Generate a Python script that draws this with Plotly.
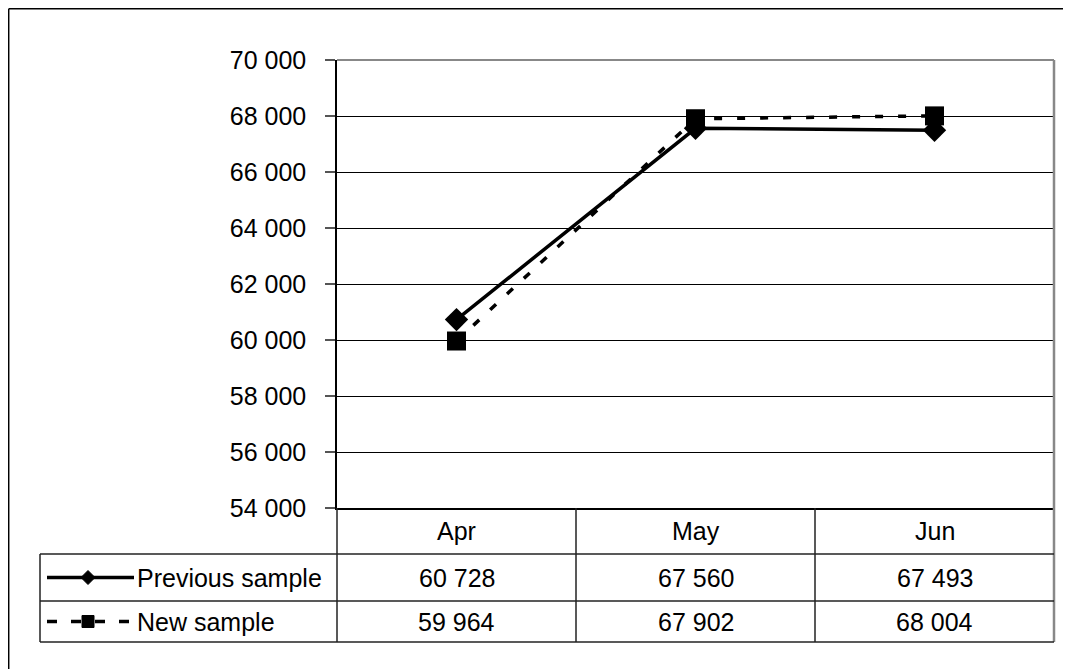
import plotly.graph_objects as go

categories = ["Apr", "May", "Jun"]
previous_sample = [60728, 67560, 67493]
new_sample = [59964, 67902, 68004]
series_names = ["Previous sample", "New sample"]
y_ticks = [54000, 56000, 58000, 60000, 62000, 64000, 66000, 68000, 70000]

OFF = 8  # page body margin
W, H = 1071 - OFF, 669 - OFF
# plot area in page pixels
PL, PR, PT, PB = 337, 1054, 60, 508
L, R, T, B = PL - OFF, PR - OFF, PT - OFF, PB - OFF
FONT = "Liberation Sans, Arial, sans-serif"
FS = 25

def px(x):
    """page x pixel -> paper coordinate"""
    return (x - OFF - L) / (R - L)

def py(y):
    """page y pixel -> paper coordinate"""
    return (B - (y - OFF)) / (B - T)

def fmt(v):
    return f"{v:,}".replace(",", " ")

fig = go.Figure()
fig.add_trace(go.Scatter(
    x=categories, y=previous_sample, mode="lines+markers", name=series_names[0],
    line=dict(color="black", width=3.5),
    marker=dict(symbol="diamond", size=18, color="black"),
    cliponaxis=False,
))
fig.add_trace(go.Scatter(
    x=categories, y=new_sample, mode="lines+markers", name=series_names[1],
    line=dict(color="black", width=3.5, dash="8px,15px"),
    marker=dict(symbol="square", size=19, color="black"),
    cliponaxis=False,
))

shapes = []
LC = "#222"
# outer border: only top and left edges are inside the page
shapes.append(dict(type="line", xref="paper", yref="paper",
                   x0=px(8.7), x1=px(1071), y0=py(8.7), y1=py(8.7),
                   line=dict(color="black", width=1.5), layer="below"))
shapes.append(dict(type="line", xref="paper", yref="paper",
                   x0=px(8.7), x1=px(8.7), y0=py(8.7), y1=py(669),
                   line=dict(color="black", width=1.5), layer="below"))
# plot area top and right border (gray)
shapes.append(dict(type="line", xref="paper", yref="paper", x0=0, x1=1, y0=1, y1=1,
                   line=dict(color="#888", width=2)))
shapes.append(dict(type="line", xref="paper", yref="paper", x0=1, x1=1, y0=1, y1=py(642),
                   line=dict(color="#888", width=2.5)))
# table rows
rows_y = [554, 601, 642]
for yy in rows_y:
    shapes.append(dict(type="line", xref="paper", yref="paper", x0=px(40), x1=1,
                       y0=py(yy), y1=py(yy), line=dict(color=LC, width=1.5)))
# table verticals
shapes.append(dict(type="line", xref="paper", yref="paper", x0=px(40), x1=px(40),
                   y0=py(554), y1=py(642), line=dict(color=LC, width=1.5)))
shapes.append(dict(type="line", xref="paper", yref="paper", x0=0, x1=0,
                   y0=0, y1=py(642), line=dict(color=LC, width=1.5)))
for i in range(len(categories) - 1):
    shapes.append(dict(type="line", xref="x", yref="paper", x0=i + 0.5, x1=i + 0.5,
                       y0=0, y1=py(642), line=dict(color=LC, width=1.5)))

# legend keys in table
row_mid = [(554 + 601) / 2, (601 + 642) / 2]
kx0, kx1, kc = 47, 134, 88
shapes.append(dict(type="line", xref="paper", yref="paper", x0=px(kx0), x1=px(kx1),
                   y0=py(row_mid[0]), y1=py(row_mid[0]), line=dict(color="black", width=3.5)))
d = 7
shapes.append(dict(type="path", xref="paper", yref="paper",
                   path=f"M {px(kc)} {py(row_mid[0]-d)} L {px(kc+d)} {py(row_mid[0])} "
                        f"L {px(kc)} {py(row_mid[0]+d)} L {px(kc-d)} {py(row_mid[0])} Z",
                   fillcolor="black", line=dict(color="black", width=1)))
shapes.append(dict(type="line", xref="paper", yref="paper", x0=px(kx0), x1=px(kx1),
                   y0=py(row_mid[1]), y1=py(row_mid[1]),
                   line=dict(color="black", width=3.5, dash="10px,14px")))
s = 6
shapes.append(dict(type="rect", xref="paper", yref="paper",
                   x0=px(kc - s), x1=px(kc + s), y0=py(row_mid[1] - s), y1=py(row_mid[1] + s),
                   fillcolor="black", line=dict(color="black", width=1)))

annotations = []
tf = dict(family=FONT, size=FS, color="black")
for i, c in enumerate(categories):
    annotations.append(dict(x=c, y=py((508 + 554) / 2), xref="x", yref="paper", text=c,
                            showarrow=False, xanchor="center", yanchor="middle", font=tf))
for r, vals in enumerate([previous_sample, new_sample]):
    for i, c in enumerate(categories):
        annotations.append(dict(x=c, y=py(row_mid[r]), xref="x", yref="paper", text=fmt(vals[i]),
                                showarrow=False, xanchor="center", yanchor="middle", font=tf))
    annotations.append(dict(x=px(135), y=py(row_mid[r]), xref="paper", yref="paper",
                            text=series_names[r], showarrow=False, xanchor="left",
                            yanchor="middle", font=tf))

fig.update_layout(
    width=W, height=H, autosize=False,
    margin=dict(l=L, r=W - R, t=T, b=H - B, pad=0),
    paper_bgcolor="white", plot_bgcolor="white",
    showlegend=False,
    separators=". ",
    font=dict(family=FONT, size=FS, color="black"),
    xaxis=dict(type="category", range=[-0.5, 2.5], showticklabels=False, ticks="",
               showgrid=False, zeroline=False, showline=True, linecolor="black", linewidth=1.5),
    yaxis=dict(range=[54000, 70000], tickvals=y_ticks, tickformat=",d",
               ticks="outside", ticklen=10, tickcolor="#555", tickwidth=1.5,
               ticklabelstandoff=14,
               showgrid=True, gridcolor="black", gridwidth=1, zeroline=False,
               showline=True, linecolor="black", linewidth=1.5,
               tickfont=tf),
    shapes=shapes, annotations=annotations,
)

fig.write_html("out.html")
